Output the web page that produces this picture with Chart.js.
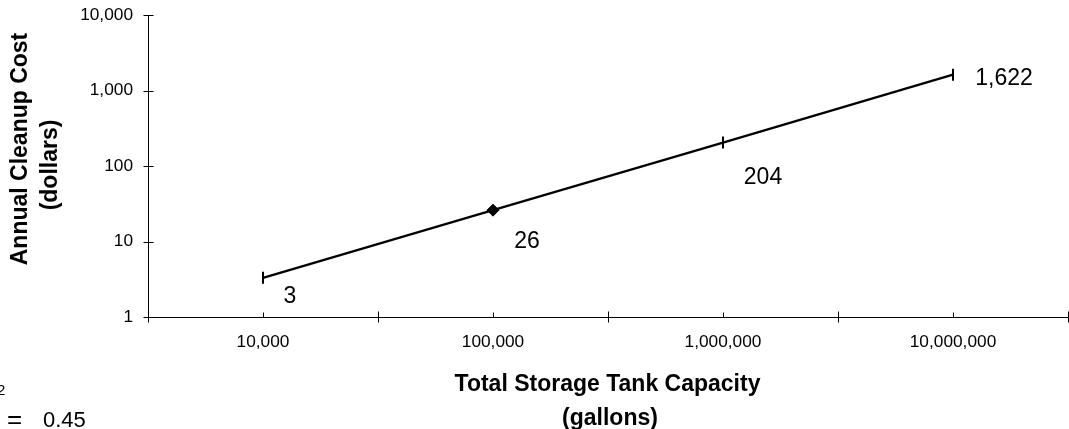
<!DOCTYPE html>
<html>
<head>
<meta charset="utf-8">
<script src="https://cdn.jsdelivr.net/npm/chart.js@4.4.1/dist/chart.umd.min.js"></script>
<style>
  html, body { margin: 0; padding: 0; background: #fff; }
  #wrap { width: 1069px; height: 429px; position: relative; }
</style>
</head>
<body>
<div id="wrap"><canvas id="c" width="1069" height="429"></canvas></div>
<script>
// Storage tank capacity (gallons) vs. annual cleanup cost (dollars)
const capacities = [10000, 100000, 1000000, 10000000];
const annualCost = [3.3, 26, 204, 1622];
const costTicks = [1, 10, 100, 1000, 10000];
const capacityTicks = [10000, 100000, 1000000, 10000000];
const rSquared = 0.45;

const FONT = "'Liberation Sans', Arial, Helvetica, sans-serif";
const fmt = v => Math.round(v).toLocaleString('en-US');

// marker shapes per point
const markerStyle = ['line', 'rectRot', 'line', 'line'];
const markerRotation = [90, 0, 90, 90];
const markerRadius = [6, 6, 6, 6];
const markerBorder = [2, 1, 2, 2];
// value label placement relative to each point (dx, dy to baseline)
const labelOffsets = [[27, 25], [34, 38], [40, 41], [51, 10]];

// boundaries between capacity classes (geometric midpoints)
const capacityEdges = (() => {
  const e = [capacityTicks[0] / Math.sqrt(10)];
  for (let i = 0; i < capacityTicks.length; i++) e.push(capacityTicks[i] * Math.sqrt(10));
  return e;
})();

// plot frame in canvas pixels
const FRAME = { left: 148, top: 15, right: 1068, bottom: 317 };

const axisMarks = {
  id: 'axisMarks',
  afterDraw(chart) {
    const { ctx, scales: { x, y } } = chart;
    ctx.save();
    ctx.strokeStyle = '#000';
    ctx.lineWidth = 1;
    ctx.beginPath();
    const ax = Math.round(x.left) + 0.5;
    costTicks.forEach(v => {
      const py = Math.round(y.getPixelForValue(v)) + 0.5;
      ctx.moveTo(ax - 5, py); ctx.lineTo(ax + 5, py);
    });
    const by = Math.round(y.bottom) + 0.5;
    capacityEdges.forEach(v => {
      const px = Math.round(x.getPixelForValue(v)) + 0.5;
      ctx.moveTo(px, by - 6); ctx.lineTo(px, by + 5);
    });
    capacityTicks.forEach(v => {
      const px = Math.round(x.getPixelForValue(v)) + 0.5;
      ctx.moveTo(px, by - 5); ctx.lineTo(px, by);
    });
    ctx.stroke();
    ctx.restore();
  }
};

const valueLabels = {
  id: 'valueLabels',
  afterDatasetsDraw(chart) {
    const { ctx } = chart;
    const meta = chart.getDatasetMeta(0);
    ctx.save();
    ctx.fillStyle = '#000';
    ctx.font = '23px ' + FONT;
    ctx.textAlign = 'center';
    ctx.textBaseline = 'alphabetic';
    meta.data.forEach((pt, i) => {
      const [dx, dy] = labelOffsets[i];
      ctx.fillText(fmt(annualCost[i]), pt.x + dx, pt.y + dy);
    });
    ctx.restore();
  }
};

const axisTitles = {
  id: 'axisTitles',
  afterDraw(chart) {
    const { ctx } = chart;
    ctx.save();
    ctx.fillStyle = '#000';
    ctx.font = 'bold 23px ' + FONT;
    ctx.textAlign = 'center';
    ctx.textBaseline = 'alphabetic';
    // x title
    ctx.fillText('Total Storage Tank Capacity', 607.5, 391);
    ctx.fillText('(gallons)', 610, 425);
    // y title
    ctx.save();
    ctx.translate(26.5, 149);
    ctx.rotate(-Math.PI / 2);
    ctx.fillText('Annual Cleanup Cost', 0, 0);
    ctx.restore();
    ctx.save();
    ctx.translate(56.5, 165);
    ctx.rotate(-Math.PI / 2);
    ctx.fillText('(dollars)', 0, 0);
    ctx.restore();
    // goodness of fit note
    ctx.font = '22px ' + FONT;
    ctx.textAlign = 'right';
    ctx.fillText('R', -1, 427);
    ctx.textAlign = 'left';
    ctx.font = '15px ' + FONT;
    ctx.fillText('2', -3, 395);
    ctx.font = '26px ' + FONT;
    ctx.fillText('=', 7, 428);
    ctx.font = '22px ' + FONT;
    ctx.fillText(rSquared.toFixed(2), 43, 427);
    ctx.restore();
  }
};

// pin the plot frame after the automatic layout pass
const pinFrame = {
  id: 'pinFrame',
  afterLayout(chart) {
    const { x, y } = chart.scales;
    const ca = chart.chartArea;
    ca.left = FRAME.left; ca.top = FRAME.top; ca.right = FRAME.right; ca.bottom = FRAME.bottom;
    ca.width = FRAME.right - FRAME.left; ca.height = FRAME.bottom - FRAME.top;
    x.left = FRAME.left; x.right = FRAME.right; x.width = FRAME.right - FRAME.left;
    x.top = FRAME.bottom; x.bottom = 429; x.height = 429 - FRAME.bottom;
    y.top = FRAME.top; y.bottom = FRAME.bottom; y.height = FRAME.bottom - FRAME.top;
    y.left = 0; y.right = FRAME.left; y.width = FRAME.left;
    x.configure(); y.configure();
    x._labelItems = null; y._labelItems = null;
  }
};

new Chart(document.getElementById('c'), {
  type: 'line',
  data: {
    datasets: [{
      data: capacities.map((c, i) => ({ x: c, y: annualCost[i] })),
      borderColor: '#000',
      backgroundColor: '#000',
      borderWidth: 2.2,
      tension: 0,
      pointStyle: markerStyle,
      pointRotation: markerRotation,
      pointRadius: markerRadius,
      pointBorderWidth: markerBorder,
      pointBorderColor: '#000',
      pointBackgroundColor: '#000',
      clip: false
    }]
  },
  options: {
    responsive: false,
    devicePixelRatio: 1,
    animation: false,
    layout: { padding: { top: 15, right: 1, left: 0, bottom: 0 } },
    plugins: { legend: { display: false }, tooltip: { enabled: false }, title: { display: false } },
    scales: {
      x: {
        type: 'logarithmic',
        position: 'bottom',
        min: capacityEdges[0],
        max: capacityEdges[capacityEdges.length - 1],
        afterBuildTicks: s => { s.ticks = capacityTicks.map(v => ({ value: v })); },
        afterFit: s => { s.height = 112; },
        grid: { display: false, drawTicks: false },
        border: { display: true, color: '#000', width: 1 },
        ticks: {
          autoSkip: false, maxRotation: 0, padding: 15,
          color: '#000',
          font: { family: FONT, size: 17.3 },
          callback: v => fmt(v)
        }
      },
      y: {
        type: 'logarithmic',
        position: 'left',
        min: costTicks[0],
        max: costTicks[costTicks.length - 1],
        afterBuildTicks: s => { s.ticks = costTicks.map(v => ({ value: v })); },
        afterFit: s => { s.width = 148; },
        grid: { display: false, drawTicks: false },
        border: { display: true, color: '#000', width: 1 },
        ticks: {
          autoSkip: false, padding: 15,
          color: '#000',
          font: { family: FONT, size: 17.3 },
          callback: v => fmt(v)
        }
      }
    }
  },
  plugins: [pinFrame, axisMarks, valueLabels, axisTitles]
});
</script>
</body>
</html>
